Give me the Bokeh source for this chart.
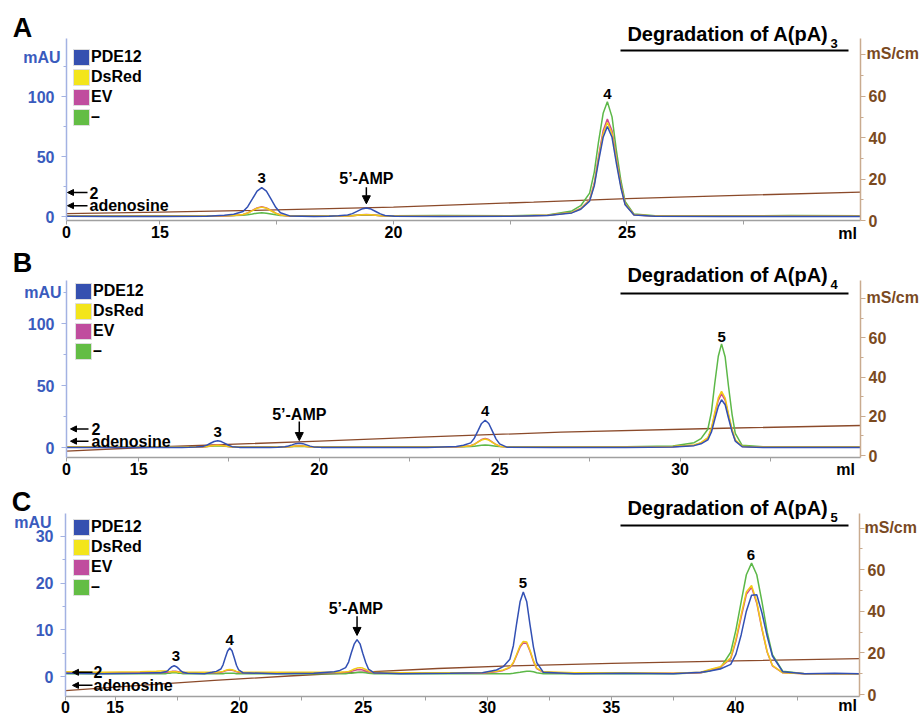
from bokeh.plotting import figure
from bokeh.models import (Range1d, LinearAxis, FixedTicker, Label, Arrow, NormalHead,
                          Legend, LegendItem, ColumnDataSource)
from bokeh.layouts import column
from bokeh.embed import file_html
from bokeh.resources import INLINE

FONT = "Liberation Sans"
BLUE, YELLOW, MAGENTA, GREEN, BROWN = "#3250b4", "#f2cb16", "#d24a8c", "#5cb848", "#8b4a2a"
SQ = {"PDE12": "#3550b0", "DsRed": "#f3e51b", "EV": "#c04d9e", "–": "#63bd45"}
LEFT_C, LEFT_LINE = "#3a5bbd", "#a3b2e2"
RIGHT_C, RIGHT_LINE = "#7a4a1f", "#c9ab8f"

# ---------------- data: panel A, degradation of A(pA)3 ----------------
A_ml = [13.0, 14.0, 15.0, 16.0,
        16.38, 16.58, 16.78, 16.88, 16.98, 17.08, 17.18, 17.28, 17.38, 17.48, 17.58, 17.78,
        18.3,
        18.62, 18.82, 19.02, 19.12, 19.22, 19.32, 19.42, 19.52, 19.62, 19.72, 19.82, 20.02,
        21.0, 22.5, 23.3,
        23.82, 24.01, 24.2, 24.3, 24.39, 24.49, 24.58, 24.68, 24.77, 24.87, 24.96, 25.15,
        25.6, 27.0, 28.5, 30.0]
A_pde12 = [0.2, 0.0, 0.1, 0.2,
           1.0, 1.9, 4.1, 8.2, 14.6, 21.1, 24.0, 21.1, 14.4, 7.7, 3.1, 0.5,
           0.1,
           0.3, 0.6, 1.2, 2.4, 4.3, 6.2, 7.0, 6.2, 4.2, 2.2, 0.9, 0.2,
           0.1, 0.2, 0.8,
           3.0, 6.0, 12.8, 25.5, 45.8, 66.0, 75.0, 66.0, 45.0, 24.0, 9.8, 1.2,
           0.2, 0.0, 0.1, 0.0]
A_dsred = [0.4, 0.3, 0.3, 0.4,
           0.6, 0.9, 1.6, 2.9, 4.9, 6.9, 7.8, 6.9, 4.8, 2.7, 1.3, 0.5,
           0.3,
           0.3, 0.4, 0.5, 0.7, 1.0, 1.4, 1.5, 1.4, 1.0, 0.7, 0.5, 0.3,
           0.3, 0.4, 1.0,
           3.4, 6.5, 13.6, 26.8, 47.9, 69.0, 78.3, 69.0, 47.1, 25.3, 10.4, 1.5,
           0.4, 0.3, 0.3, 0.3]
A_ev = [0.3, 0.2, 0.2, 0.3,
        0.5, 0.8, 1.6, 2.9, 5.1, 7.2, 8.2, 7.2, 5.0, 2.8, 1.2, 0.3,
        0.2,
        0.3, 0.3, 0.5, 0.7, 1.1, 1.5, 1.7, 1.5, 1.1, 0.7, 0.4, 0.2,
        0.2, 0.3, 1.0,
        3.4, 6.7, 14.0, 27.7, 49.6, 71.5, 81.2, 71.5, 48.8, 26.1, 10.7, 1.4,
        0.3, 0.2, 0.2, 0.2]
A_none = [0.7, 0.6, 0.7, 0.7,
          0.7, 0.8, 1.0, 1.5, 2.1, 2.8, 3.1, 2.8, 2.1, 1.4, 0.9, 0.6,
          0.6,
          0.6, 0.6, 0.7, 0.8, 1.0, 1.1, 1.2, 1.1, 1.0, 0.8, 0.7, 0.6,
          0.8, 0.7, 1.3,
          4.6, 9.0, 19.5, 37.0, 62.0, 86.0, 95.6, 83.0, 56.0, 30.0, 12.5, 2.0,
          0.7, 0.6, 0.8, 0.6]
A_cond_ml = [13, 15, 17, 20, 23, 25, 27, 30]
A_cond = [3.3, 4.0, 4.9, 6.5, 8.9, 10.6, 11.9, 13.7]
A_pk_text = ["3", "5’-AMP", "4"]
A_pk_x = [17.18, 19.42, 24.58]
A_pk_y = [32.5, 32.0, 101.7]
A_amp = (19.42, 24.4, 10.6)
A_notes_y = (20.0, 9.0)

# ---------------- data: panel B, degradation of A(pA)4 ----------------
B_ml = [13.0, 14.5, 16.2,
        16.39, 16.59, 16.79, 16.89, 16.99, 17.09, 17.19, 17.29, 17.39, 17.49, 17.59, 17.79,
        18.5,
        18.65, 18.85, 19.05, 19.15, 19.25, 19.35, 19.45, 19.55, 19.65, 19.75, 19.85, 20.05,
        21.5, 23.0,
        23.8, 24.0, 24.2, 24.3, 24.4, 24.5, 24.6, 24.7, 24.8, 24.9, 25.0, 25.2,
        26.5, 28.5, 29.8,
        30.39, 30.58, 30.77, 30.87, 30.96, 31.06, 31.15, 31.25, 31.34, 31.44, 31.53, 31.72,
        32.3, 33.5, 35.0]
B_pde12 = [0.1, 0.0, 0.1,
           0.2, 0.4, 0.9, 1.9, 3.4, 4.8, 5.5, 4.8, 3.3, 1.8, 0.7, 0.1,
           0.0,
           0.1, 0.3, 0.6, 1.2, 2.1, 3.1, 3.5, 3.1, 2.1, 1.1, 0.5, 0.1,
           0.0, 0.1,
           0.9, 1.8, 3.7, 7.5, 13.4, 19.4, 22.0, 19.4, 13.2, 7.0, 2.9, 0.3,
           0.1, 0.0, 0.5,
           1.5, 3.0, 6.2, 12.5, 22.5, 33.0, 38.5, 34.5, 24.0, 12.8, 5.2, 0.6,
           0.1, 0.0, 0.1]
B_dsred = [0.4, 0.3, 0.3,
           0.4, 0.4, 0.6, 0.8, 1.2, 1.6, 1.8, 1.6, 1.2, 0.8, 0.5, 0.3,
           0.3,
           0.3, 0.4, 0.5, 0.6, 0.9, 1.2, 1.3, 1.2, 0.9, 0.6, 0.4, 0.3,
           0.3, 0.3,
           0.6, 0.8, 1.4, 2.5, 4.3, 6.0, 6.8, 6.0, 4.2, 2.4, 1.1, 0.4,
           0.3, 0.3, 0.8,
           2.1, 3.9, 7.9, 15.6, 27.8, 40.0, 45.3, 39.9, 27.3, 14.7, 6.2, 1.0,
           0.3, 0.3, 0.3]
B_ev = [0.3, 0.2, 0.2,
        0.3, 0.3, 0.5, 0.8, 1.3, 1.8, 2.0, 1.8, 1.3, 0.8, 0.4, 0.2,
        0.2,
        0.2, 0.3, 0.4, 0.6, 0.9, 1.3, 1.4, 1.3, 0.9, 0.6, 0.4, 0.2,
        0.2, 0.2,
        0.5, 0.8, 1.4, 2.6, 4.5, 6.4, 7.2, 6.4, 4.4, 2.4, 1.1, 0.3,
        0.2, 0.2, 0.7,
        1.9, 3.6, 7.5, 14.8, 26.4, 38.0, 43.2, 38.0, 26.0, 14.0, 5.8, 0.8,
        0.2, 0.2, 0.2]
B_none = [0.6, 0.7, 0.6,
          0.6, 0.7, 0.7, 0.9, 1.1, 1.3, 1.4, 1.3, 1.1, 0.9, 0.7, 0.6,
          0.6,
          0.6, 0.6, 0.7, 0.7, 0.8, 0.9, 1.0, 0.9, 0.8, 0.7, 0.7, 0.6,
          0.7, 0.6,
          0.7, 0.7, 0.9, 1.1, 1.5, 1.9, 2.1, 1.9, 1.5, 1.1, 0.8, 0.6,
          0.6, 0.7, 1.2,
          3.9, 7.2, 14.7, 28.8, 51.2, 73.6, 83.6, 73.0, 50.0, 27.0, 11.4, 1.8,
          0.6, 0.7, 0.6]
B_cond_ml = [13, 15.3, 20, 23, 26.7, 31.2, 35]
B_cond = [2.2, 4.2, 7.3, 9.5, 11.9, 13.9, 15.3]
B_pk_text = ["3", "5’-AMP", "4", "5"]
B_pk_x = [17.19, 19.45, 24.6, 31.15]
B_pk_y = [12.3, 27.0, 29.3, 89.5]
B_amp = (19.45, 21.0, 5.6)
B_notes_y = (15.0, 5.1)

# ---------------- data: panel C, degradation of A(pA)5 ----------------
C_ml = [13.0, 14.5, 16.0,
        16.66, 16.84, 17.02, 17.11, 17.2, 17.29, 17.38, 17.47, 17.56, 17.65, 17.74, 17.92,
        18.6,
        18.9, 19.08, 19.26, 19.35, 19.44, 19.53, 19.62, 19.71, 19.8, 19.89, 19.98, 20.16,
        21.5, 23.0,
        23.83, 24.06, 24.29, 24.41, 24.52, 24.64, 24.75, 24.87, 24.98, 25.1, 25.21, 25.44,
        26.5, 28.5, 29.8,
        30.37, 30.64, 30.91, 31.05, 31.18, 31.32, 31.45, 31.59, 31.72, 31.86, 31.99, 32.26,
        33.5, 35.5, 37.5, 38.6,
        38.97, 39.39, 39.81, 40.02, 40.23, 40.44, 40.65, 40.86, 41.07, 41.28, 41.49, 41.91,
        42.8, 44.0, 45.0]
C_pde12 = [0.7, 0.6, 0.7,
           0.8, 0.8, 1.0, 1.2, 1.7, 2.1, 2.3, 2.1, 1.7, 1.2, 0.9, 0.7,
           0.6,
           0.9, 1.1, 1.6, 2.5, 4.0, 5.4, 6.1, 5.5, 4.0, 2.4, 1.4, 0.8,
           0.6, 0.7,
           1.0, 1.3, 1.9, 3.1, 5.1, 7.0, 7.9, 7.0, 5.0, 3.0, 1.6, 0.8,
           0.6, 0.7, 0.8,
           1.4, 2.1, 3.7, 6.6, 11.3, 16.0, 18.1, 16.0, 11.1, 6.3, 3.0, 0.9,
           0.6, 0.7, 0.6, 0.9,
           1.2, 1.6, 2.6, 4.8, 8.9, 14.0, 17.4, 17.5, 13.6, 8.6, 4.4, 1.0,
           0.6, 0.7, 0.6]
C_dsred = [1.0, 0.9, 1.0,
           1.1, 1.2, 1.2, 1.1, 1.0, 1.0, 1.0, 1.0, 0.9, 0.9, 0.9, 0.9,
           0.9,
           0.9, 0.9, 1.0, 1.1, 1.3, 1.45, 1.5, 1.45, 1.3, 1.1, 1.0, 0.9,
           0.9, 0.9,
           0.9, 0.9, 1.0, 1.1, 1.3, 1.6, 1.8, 1.9, 1.8, 1.5, 1.2, 0.9,
           0.8, 0.8, 0.8,
           1.1, 1.4, 2.0, 3.0, 4.7, 6.6, 7.5, 7.4, 5.6, 3.4, 1.8, 1.0,
           0.8, 0.8, 0.7, 0.9,
           1.5, 2.1, 4.0, 8.0, 13.2, 18.1, 19.5, 16.0, 10.3, 5.3, 2.4, 0.8,
           0.6, 0.6, 0.6]
C_ev = [0.8, 0.8, 0.8,
        0.8, 0.8, 0.9, 0.9, 1.0, 1.1, 1.1, 1.1, 1.0, 0.9, 0.8, 0.8,
        0.8,
        0.8, 0.8, 0.9, 1.0, 1.2, 1.35, 1.4, 1.35, 1.2, 1.0, 0.9, 0.8,
        0.8, 0.8,
        0.8, 0.8, 0.9, 1.0, 1.1, 1.3, 1.45, 1.5, 1.4, 1.2, 1.0, 0.8,
        0.7, 0.7, 0.7,
        1.0, 1.3, 1.9, 2.9, 4.5, 6.3, 7.2, 7.1, 5.4, 3.2, 1.7, 0.9,
        0.7, 0.7, 0.7, 0.8,
        1.4, 2.0, 3.8, 7.6, 12.7, 17.6, 19.1, 15.7, 10.1, 5.2, 2.3, 0.8,
        0.6, 0.6, 0.6]
C_none = [0.6, 0.6, 0.6,
          0.6, 0.6, 0.6, 0.7, 0.7, 0.8, 0.8, 0.8, 0.7, 0.7, 0.6, 0.6,
          0.6,
          0.6, 0.6, 0.6, 0.6, 0.7, 0.7, 0.7, 0.7, 0.7, 0.6, 0.6, 0.6,
          0.6, 0.6,
          0.6, 0.6, 0.6, 0.7, 0.7, 0.8, 0.85, 0.9, 0.85, 0.8, 0.7, 0.6,
          0.6, 0.6, 0.6,
          0.6, 0.6, 0.6, 0.7, 0.8, 0.9, 1.0, 1.1, 1.1, 1.0, 0.8, 0.6,
          0.6, 0.6, 0.6, 0.8,
          1.2, 1.8, 5.2, 10.0, 16.0, 21.8, 24.3, 21.8, 16.0, 9.5, 4.7, 1.1,
          0.6, 0.6, 0.6]
C_cond_ml = [13, 16, 19, 22, 25, 28, 31, 35, 40, 45]
C_cond = [1.9, 4.4, 6.8, 8.9, 10.8, 12.5, 13.8, 15.0, 16.2, 17.2]
C_pk_text = ["3", "4", "5’-AMP", "5", "6"]
C_pk_x = [17.45, 19.62, 24.7, 31.44, 40.62]
C_pk_y = [4.35, 7.9, 14.5, 20.0, 26.1]
C_amp = (24.75, 12.9, 8.8)
C_notes_y = (0.9, -1.9)

LEGEND_LABELS = ["PDE12", "DsRed", "EV", "–"]
WIDTH = 921


def bold(size, color="black"):
    return dict(text_font=FONT, text_font_style="bold", text_font_size=size, text_color=color)


def style_axis(ax, line, label, tick_out, minor_out, standoff, width=1.5):
    ax.axis_line_color = line
    ax.axis_line_width = width
    ax.major_tick_line_color = line
    ax.minor_tick_line_color = line
    ax.major_tick_in = 0
    ax.minor_tick_in = 0
    ax.major_tick_out = tick_out
    ax.minor_tick_out = minor_out
    ax.major_label_standoff = standoff
    ax.major_label_text_font = FONT
    ax.major_label_text_font_style = "bold"
    ax.major_label_text_font_size = "16px"
    ax.major_label_text_color = label


def build(letter, sub, ml, ys, cond_ml, cond, xlim, lticks, lminor, xticks, xminor,
          pk_text, pk_x, pk_y, amp, notes_y, g):
    top, h = g["top"], g["h"]
    xmin, xmax = xlim
    x0px, x1px = g["xpx"]
    k = (xmax - xmin) / (x1px - x0px)

    def px2x(px):
        return xmin + (px - x0px) * k

    def sy(py):
        return top + h - py

    l0, lppu = g["left0"]
    c0, cppu = g["cond0"]
    yl = ((l0 - (top + h)) / lppu, (l0 - top) / lppu)
    yc = ((c0 - (top + h)) / cppu, (c0 - top) / cppu)
    x_axis_val = (l0 - g["axis_py"]) / lppu
    lb = (x_axis_val, (l0 - g["top_py"]) / lppu)
    cb = ((c0 - g["axis_py"]) / cppu, (c0 - g["top_py"]) / cppu)

    p = figure(width=WIDTH, height=h, x_range=Range1d(px2x(0), px2x(WIDTH)),
               y_range=Range1d(*yl), x_axis_type=None, y_axis_type=None,
               output_backend="svg", toolbar_location=None, title=None, min_border=0)
    p.extra_y_ranges = {"cond": Range1d(*yc)}
    p.outline_line_color = None

    xa = LinearAxis(fixed_location=x_axis_val, bounds=(xmin, xmax),
                    ticker=FixedTicker(ticks=xticks, minor_ticks=xminor),
                    major_label_overrides={13: "0"})
    style_axis(xa, "#a0a0a0", "black", 4, 4, g["xstand"])
    p.add_layout(xa, "below")

    la = LinearAxis(fixed_location=xmin, bounds=lb,
                    ticker=FixedTicker(ticks=lticks, minor_ticks=lminor))
    style_axis(la, LEFT_LINE, LEFT_C, 5, 3, 7)
    p.add_layout(la, "left")

    ra = LinearAxis(y_range_name="cond", fixed_location=xmax, bounds=cb,
                    ticker=FixedTicker(ticks=[0, 20, 40, 60, 80], minor_ticks=[10, 30, 50, 70]),
                    major_label_overrides={80: ""})
    style_axis(ra, RIGHT_LINE, RIGHT_C, 5, 3, 3)
    p.add_layout(ra, "right")

    p.line(cond_ml, cond, y_range_name="cond", line_color=BROWN, line_width=1.3)
    src = ColumnDataSource(dict(ml=ml, pde12=ys[0], dsred=ys[1], ev=ys[2], none=ys[3]))
    for name, col in [("none", GREEN), ("ev", MAGENTA), ("dsred", YELLOW), ("pde12", BLUE)]:
        p.line("ml", name, source=src, line_color=col, line_width=1.5)

    items = []
    for lab in LEGEND_LABELS:
        r = p.quad(left=[0], right=[0], top=[0], bottom=[0], fill_color=SQ[lab],
                   line_color="#dedede", line_width=1)
        items.append(LegendItem(label=lab, renderers=[r]))
    sqx, sqy = g["legend"]          # top-left of the first coloured square
    leg_h = 4 * 20
    leg = Legend(items=items, location=(sqx - 2, h - ((sqy - top - 2) + leg_h)),
                 margin=0, padding=0, glyph_width=20, glyph_height=20, label_height=20,
                 spacing=0, label_standoff=0, label_text_font=FONT,
                 label_text_font_style="bold", label_text_font_size="16px",
                 label_text_color="black", background_fill_alpha=0, border_line_alpha=0)
    p.add_layout(leg)

    # panel letter, title, units
    lx_, ly_ = g["letter"]
    p.add_layout(Label(x=lx_, y=sy(ly_), x_units="screen", y_units="screen", text=letter,
                       text_align="center", text_baseline="middle", **bold("27px")))
    p.add_layout(Label(x=828, y=sy(g["title_y"]), x_units="screen", y_units="screen",
                       text="Degradation of A(pA)", text_align="right", text_baseline="middle",
                       **bold("20px")))
    p.add_layout(Label(x=830, y=sy(g["title_y"] + 10), x_units="screen", y_units="screen",
                       text=sub, text_align="left", text_baseline="middle", **bold("13px")))
    p.add_layout(Arrow(x_start=620, y_start=sy(g["line_y"]), x_end=848, y_end=sy(g["line_y"]),
                       start_units="screen", end_units="screen", start=None, end=None,
                       line_width=2, line_color="black"))
    mx, my = g["mau"]
    p.add_layout(Label(x=mx, y=sy(my), x_units="screen", y_units="screen", text="mAU",
                       text_align="right", text_baseline="middle", **bold("16px", LEFT_C)))
    sx_, sy_ = g["ms"]
    p.add_layout(Label(x=sx_, y=sy(sy_), x_units="screen", y_units="screen", text="mS/cm",
                       text_align="left", text_baseline="middle", **bold("16px", RIGHT_C)))
    p.add_layout(Label(x=px2x(g["ml"][0]), y=sy(g["ml"][1]), y_units="screen", text="ml",
                       text_align="center", text_baseline="middle", **bold("16px")))

    # peak labels
    for t, x, y in zip(pk_text, pk_x, pk_y):
        p.add_layout(Label(x=x, y=y, text=t, text_align="center", text_baseline="middle",
                           **bold("16px" if len(t) > 1 else "15px")))
    ax, ay0, ay1 = amp
    p.add_layout(Arrow(x_start=ax, y_start=ay0, x_end=ax, y_end=ay1, line_width=1.5,
                       end=NormalHead(size=8, fill_color="black", line_color="black")))

    # left notes: "2" and "adenosine"
    a0, a1, tx = g["notes_px"]
    for t, y in zip(["2", "adenosine"], notes_y):
        p.add_layout(Arrow(x_start=px2x(a0), y_start=y, x_end=px2x(a1), y_end=y,
                           line_width=1.5,
                           end=NormalHead(size=6, fill_color="black", line_color="black")))
        p.add_layout(Label(x=px2x(tx), y=y, text=t, text_align="left",
                           text_baseline="middle", **bold("16px")))
    return p


pA = build("A", "3", A_ml, [A_pde12, A_dsred, A_ev, A_none], A_cond_ml, A_cond,
           (13, 30), [0, 50, 100], [25, 75, 125], [13, 15, 20, 25], [17.5, 22.5, 27.5],
           A_pk_text, A_pk_x, A_pk_y, A_amp, A_notes_y,
           dict(top=0, h=245, xpx=(66, 860), left0=(216, 1.2), cond0=(220, 2.07),
                axis_py=220, top_py=38, xstand=1, legend=(73, 49), letter=(22, 27),
                title_y=33, line_y=50, mau=(60, 57), ms=(866, 53), ml=(847, 233),
                notes_px=(87, 67, 89)))
pB = build("B", "4", B_ml, [B_pde12, B_dsred, B_ev, B_none], B_cond_ml, B_cond,
           (13, 35), [0, 50, 100], [25, 75, 125], [13, 15, 20, 25, 30], [17.5, 22.5, 27.5, 32.5],
           B_pk_text, B_pk_x, B_pk_y, B_amp, B_notes_y,
           dict(top=245, h=238, xpx=(66, 860), left0=(447, 1.24), cond0=(455, 1.96),
                axis_py=457, top_py=280, xstand=1, legend=(75, 283), letter=(22, 262),
                title_y=274, line_y=293, mau=(61, 292), ms=(866, 297), ml=(845, 469),
                notes_px=(88, 70, 91)))
pC = build("C", "5", C_ml, [C_pde12, C_dsred, C_ev, C_none], C_cond_ml, C_cond,
           (13, 45), [0, 10, 20, 30], [5, 15, 25],
           [13, 15, 20, 25, 30, 35, 40], [17.5, 22.5, 27.5, 32.5, 37.5, 42.5],
           C_pk_text, C_pk_x, C_pk_y, C_amp, C_notes_y,
           dict(top=483, h=232, xpx=(65, 859), left0=(676, 4.667), cond0=(694, 2.08),
                axis_py=696, top_py=513, xstand=0, legend=(73, 519), letter=(21, 501),
                title_y=507, line_y=525, mau=(51, 522), ms=(864, 527), ml=(847, 705),
                notes_px=(92, 72, 93)))

layout = column(pA, pB, pC, spacing=0)
open("out.html", "w").write(file_html(layout, INLINE))
